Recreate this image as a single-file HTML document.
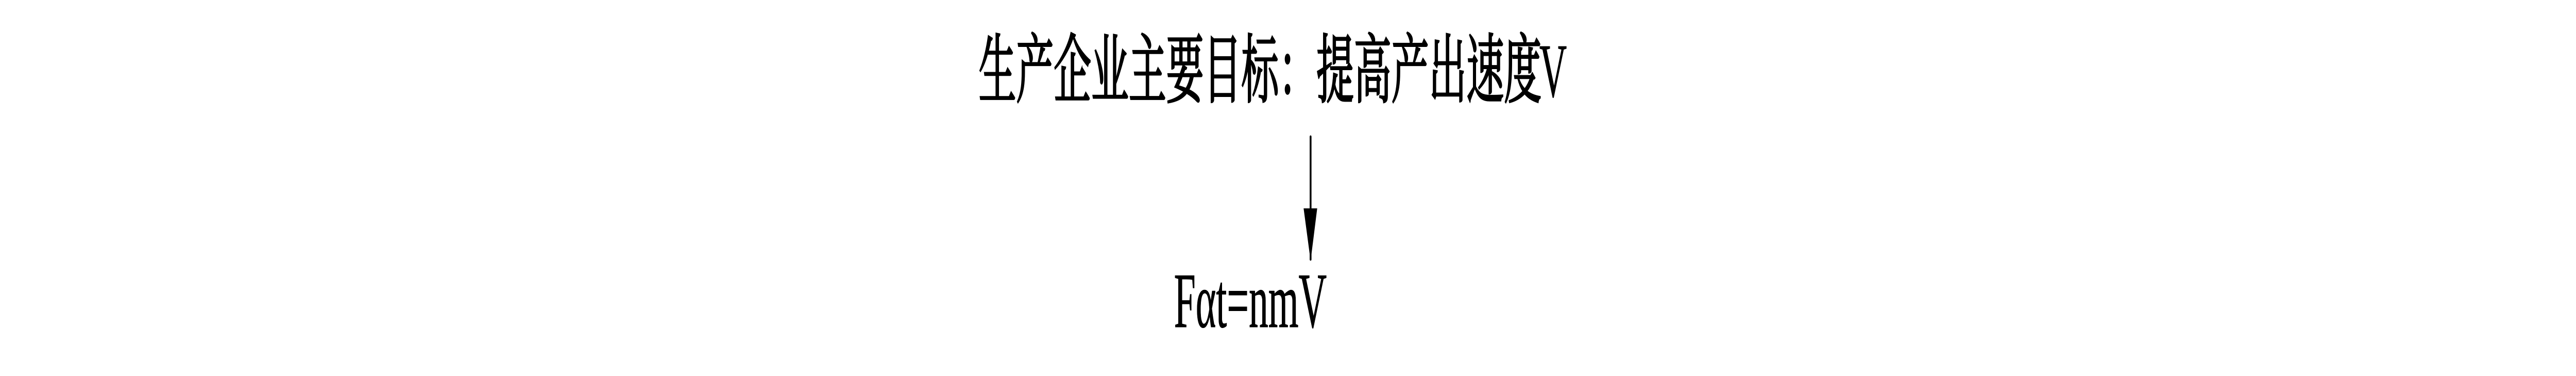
<!DOCTYPE html>
<html>
<head>
<meta charset="utf-8">
<style>
html,body{margin:0;padding:0;background:#fff;width:100%;height:100%;overflow:hidden}
svg{display:block;position:fixed;left:0;top:0;width:100%;height:100%}
</style>
</head>
<body>
<svg viewBox="0 0 7015 729" preserveAspectRatio="none" xmlns="http://www.w3.org/2000/svg">
<text transform="translate(2665,187) scale(0.7,1)" font-family="'Noto Serif CJK SC','Liberation Serif',serif" font-size="146" fill="#000" stroke="#000" stroke-width="3.5">生产企业主要目标：提高产出速度</text>
<text transform="translate(4192,187) scale(0.7,1)" font-family="'Liberation Serif',serif" font-size="148" fill="#000" stroke="#000" stroke-width="1">V</text>
<line x1="3569" y1="265" x2="3569" y2="503" stroke="#000" stroke-width="5" stroke-linecap="round"/>
<polygon points="3550,404 3587,404 3571,495 3567,495" fill="#000"/>
<text x="3197" y="634" textLength="416" lengthAdjust="spacingAndGlyphs" font-family="'Liberation Serif',serif" font-size="152" fill="#000" stroke="#000" stroke-width="1">Fαt=nmV</text>
</svg>
</body>
</html>
